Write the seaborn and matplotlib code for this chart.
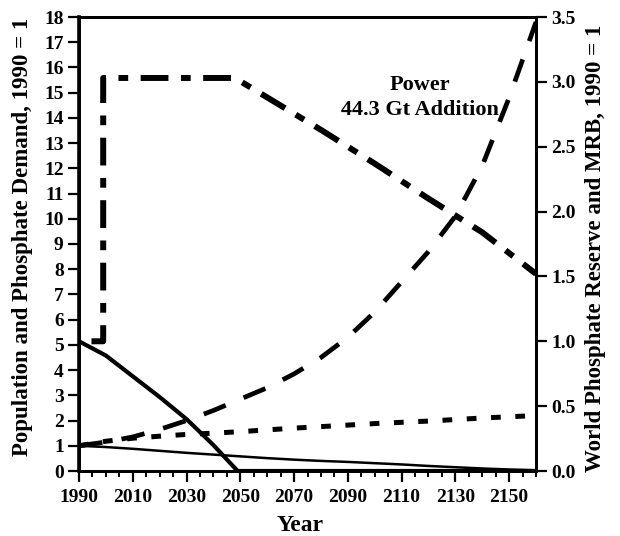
import matplotlib
matplotlib.use("Agg")
import matplotlib.pyplot as plt
import seaborn as sns
from matplotlib.ticker import MultipleLocator, FormatStrFormatter

# Time axis shared by the demand / population / thin-solid series
years = list(range(1990, 2161, 10))

# Left axis series (1990 = 1)
phosphate_demand = [1.0, 1.15, 1.35, 1.65, 2.0, 2.4, 2.85, 3.3, 3.85, 4.5,
                    5.3, 6.3, 7.5, 8.7, 10.1, 12.1, 14.8, 17.8]
population = [1.0, 1.18, 1.3, 1.38, 1.45, 1.5, 1.56, 1.63, 1.7, 1.76,
              1.82, 1.88, 1.93, 1.98, 2.04, 2.1, 2.15, 2.2]
per_capita = [1.0, 0.95, 0.88, 0.8, 0.72, 0.65, 0.58, 0.51, 0.45, 0.4,
              0.36, 0.31, 0.26, 0.2, 0.15, 0.1, 0.06, 0.03]

# Right axis series (1990 = 1)
reserve_years = [1990, 1999, 1999, 2048, 2060, 2080, 2100, 2120, 2140, 2160]
reserve_power = [1.0, 1.0, 3.03, 3.03, 2.88, 2.63, 2.37, 2.1, 1.84, 1.52]
mrb_years = [1990, 2000, 2010, 2020, 2030, 2040, 2049, 2160]
mrb = [1.0, 0.89, 0.73, 0.57, 0.40, 0.2, 0.0, 0.0]

x_ticks = list(range(1990, 2151, 20))
left_ticks = list(range(0, 19))
right_ticks = [0.0, 0.5, 1.0, 1.5, 2.0, 2.5, 3.0, 3.5]

left_label = "Population and Phosphate Demand, 1990 = 1"
right_label = "World Phosphate Reserve and MRB, 1990 = 1"
note_lines = ["Power", "44.3 Gt Addition"]

sns.set_theme(style="ticks")
plt.rcParams["font.family"] = ["Liberation Serif", "DejaVu Serif"]
plt.rcParams["font.weight"] = "bold"
plt.rcParams["axes.labelweight"] = "bold"
plt.rcParams["lines.scale_dashes"] = False
for key in ("text.color", "axes.labelcolor", "xtick.color", "ytick.color",
            "xtick.labelcolor", "ytick.labelcolor", "axes.edgecolor"):
    plt.rcParams[key] = "black"

fig = plt.figure(figsize=(6.2, 5.36), dpi=100)
ax = fig.add_axes([79 / 620, 1 - 471 / 536, (536 - 79) / 620, (471 - 17) / 536])
ax2 = ax.twinx()

# Left-axis lines
sns.lineplot(x=years, y=phosphate_demand, ax=ax, color="black", lw=3.4,
             linestyle=(0, (17, 14)), estimator=None)
sns.lineplot(x=years, y=population, ax=ax, color="black", lw=3.6,
             linestyle=(0, (7, 10.5)), estimator=None)
sns.lineplot(x=years, y=per_capita, ax=ax, color="black", lw=1.8,
             estimator=None)

# Right-axis lines
sns.lineplot(x=reserve_years, y=reserve_power, ax=ax2, color="black", lw=4.3,
             linestyle=(36, (20, 9, 7, 9)), estimator=None, sort=False)
sns.lineplot(x=mrb_years, y=mrb, ax=ax2, color="black", lw=3.0,
             estimator=None)

ax.text(2117, 15.3, note_lines[0], ha="center", va="center",
        fontsize=16, fontweight="bold", zorder=1)
ax.text(2117, 14.3, note_lines[1], ha="center", va="center",
        fontsize=16, fontweight="bold", zorder=1)

ax.set_xlim(1990, 2160)
ax.set_ylim(0, 18)
ax2.set_ylim(0, 3.5)
ax.set_xticks(x_ticks)
ax.xaxis.set_minor_locator(MultipleLocator(5))
ax.set_yticks(left_ticks)
ax2.set_yticks(right_ticks)
ax2.yaxis.set_major_formatter(FormatStrFormatter("%.1f"))

ax.tick_params(axis="both", which="major", direction="out", length=8,
               width=1.6, labelsize=14, pad=3, colors="black")
ax.tick_params(axis="x", which="minor", direction="out", length=4, width=1.4,
               colors="black")
ax.tick_params(axis="x", pad=5)
ax2.tick_params(axis="y", which="major", direction="out", length=8,
                width=1.6, labelsize=14, pad=3, colors="black")

for a in (ax, ax2):
    for side, sp in a.spines.items():
        sp.set_visible(True)
        sp.set_color("black")
        sp.set_linewidth(2.0)
ax.spines["left"].set_linewidth(2.6)

ax.set_xlabel("Year", fontsize=17, fontweight="bold", color="black")
ax.set_ylabel(left_label, fontsize=16.5, fontweight="bold", color="black")
ax2.set_ylabel(right_label, fontsize=16.5, fontweight="bold", color="black")
ax.xaxis.set_label_coords(0.483, -0.097)
ax.yaxis.set_label_coords(-0.101, 0.515)
ax2.yaxis.set_label_coords(1.107, 0.49)

fig.savefig("out.png", dpi=100)
